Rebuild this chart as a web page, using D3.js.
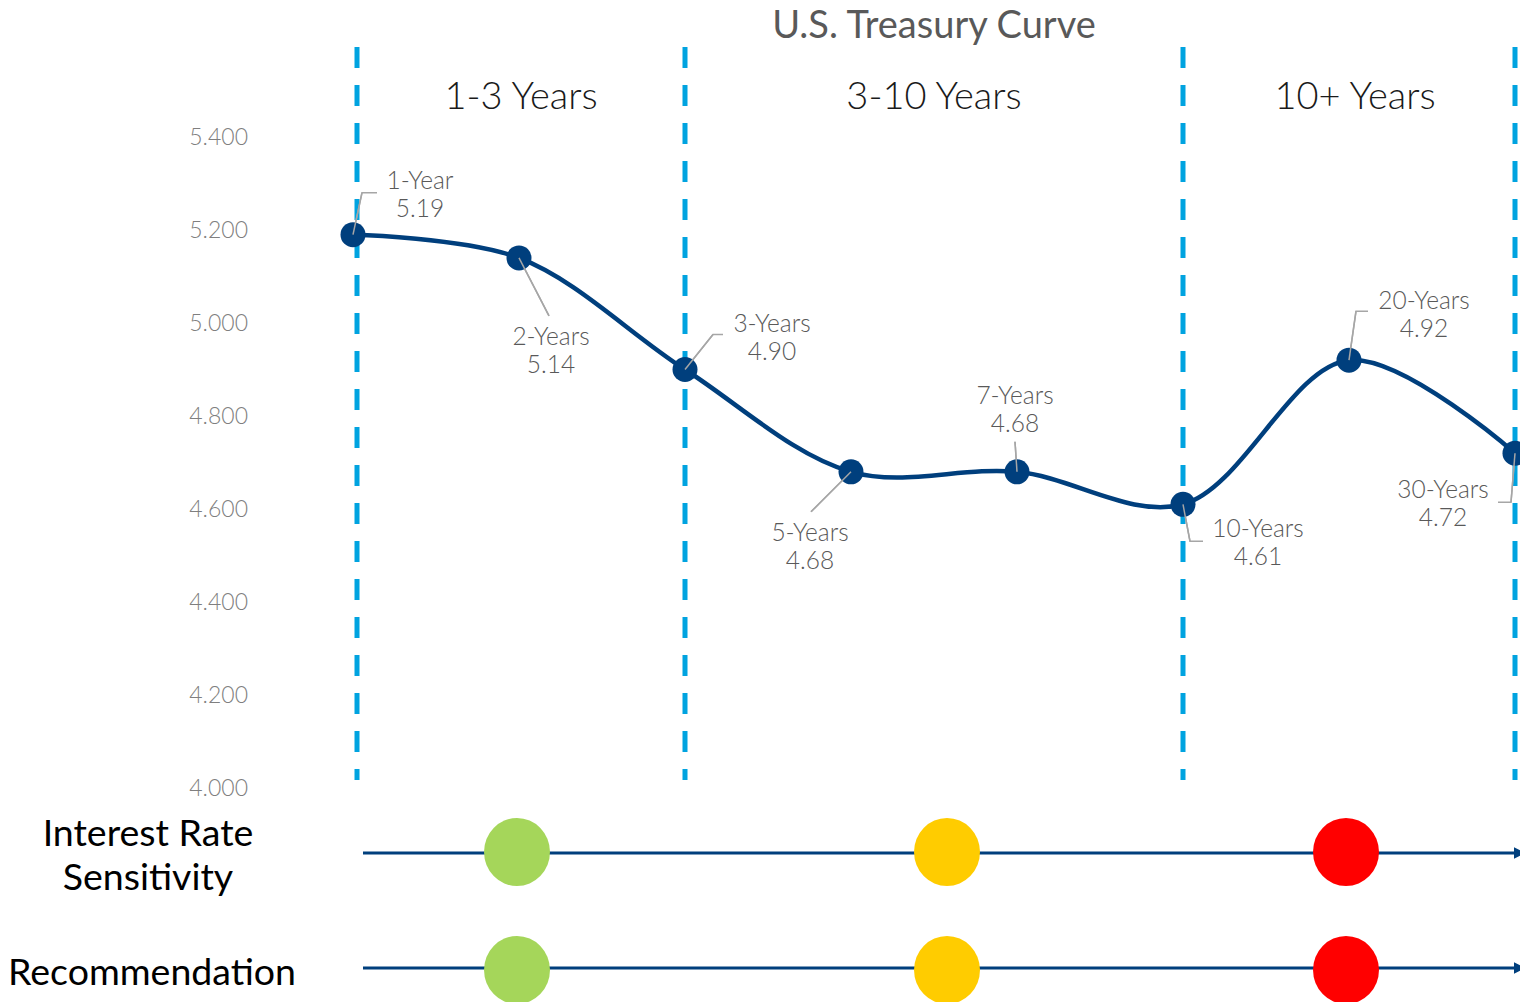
<!DOCTYPE html>
<head>
  <meta charset="utf-8">
  <script src="https://d3js.org/d3.v7.min.js"></script>
  <style>
    body { margin:0; background:#fff; font-family: Lato, "Open Sans", sans-serif; }
  </style>
</head>
<body>
  <script>
    // --- data ---
    var maturities = ["1-Year", "2-Years", "3-Years", "5-Years", "7-Years", "10-Years", "20-Years", "30-Years"];
    var yields = [5.19, 5.14, 4.90, 4.68, 4.68, 4.61, 4.92, 4.72];
    var yTicks = [4.0, 4.2, 4.4, 4.6, 4.8, 5.0, 5.2, 5.4];
    var buckets = ["1-3 Years", "3-10 Years", "10+ Years"];
    var bucketEdges = [["1-Year", "3-Years"], ["3-Years", "10-Years"], ["10-Years", "30-Years"]];
    var dividers = ["1-Year", "3-Years", "10-Years", "30-Years"];
    var rowLabels = [["Interest Rate", "Sensitivity"], ["Recommendation"]];
    var sensitivityColors = ["#a5d65a", "#ffcc00", "#ff0000"];
    var recommendationColors = ["#a5d65a", "#ffcc00", "#ff0000"];

    var W = 1520, H = 1002;
    var svg = d3.select("body").append("svg")
      .attr("width", W)
      .attr("height", H);

    var x = d3.scalePoint().domain(maturities).range([353, 1515]);
    var y = d3.scaleLinear().domain([4.0, 5.4]).range([788, 137]);

    var data = maturities.map(function(m, i) { return { name: m, value: yields[i] }; });

    // title
    svg.append("text")
      .attr("x", 934).attr("y", 38)
      .attr("text-anchor", "middle")
      .style("font-size", "38px")
      .style("fill", "#595959")
      .text("U.S. Treasury Curve");

    // y axis (labels only)
    var yAxis = d3.axisLeft(y).tickValues(yTicks).tickSize(0).tickPadding(0).tickFormat(d3.format(".3f"));
    var ga = svg.append("g").attr("transform", "translate(248,0)").call(yAxis);
    ga.select(".domain").remove();
    ga.selectAll("text")
      .style("font-family", "Lato")
      .style("font-weight", 300)
      .style("font-size", "23px")
      .style("fill", "#7f7f7f");

    // dashed dividers
    svg.selectAll(".divider")
      .data(dividers)
      .enter().append("line")
      .attr("class", "divider")
      .attr("x1", function(d, i) { return x(d) + (i === 0 ? 4 : 0); })
      .attr("x2", function(d, i) { return x(d) + (i === 0 ? 4 : 0); })
      .attr("y1", 47).attr("y2", 780)
      .style("stroke", "#00a3e0")
      .style("stroke-width", 5)
      .style("stroke-dasharray", "21,17");

    // bucket headers
    svg.selectAll(".bucket")
      .data(buckets)
      .enter().append("text")
      .attr("class", "bucket")
      .attr("x", function(d, i) { return (x(bucketEdges[i][0]) + x(bucketEdges[i][1])) / 2 + [2, 0, 6][i]; })
      .attr("y", 109)
      .attr("text-anchor", "middle")
      .style("font-weight", 300)
      .style("font-size", "38px")
      .style("fill", "#1a1a1a")
      .text(function(d) { return d; });

    // curve
    var line = d3.line()
      .x(function(d) { return x(d.name); })
      .y(function(d) { return y(d.value); })
      .curve(d3.curveCatmullRom.alpha(0.5));

    svg.append("path")
      .datum(data)
      .attr("d", line)
      .style("fill", "none")
      .style("stroke", "#003f7d")
      .style("stroke-width", 4.5);

    // leader lines + labels (offsets relative to point)
    var place = {
      "1-Year":   { dx: 67,  dy: -55, lead: [[0, 0], [9, -42], [24, -42]] },
      "2-Years":  { dx: 32,  dy: 78,  lead: [[0, 0], [30, 58]] },
      "3-Years":  { dx: 87,  dy: -47, lead: [[0, 0], [28, -35], [38, -35]] },
      "5-Years":  { dx: -41, dy: 60,  lead: [[0, 0], [-40, 40]] },
      "7-Years":  { dx: -2,  dy: -77, lead: [[0, 0], [-2, -30]] },
      "10-Years": { dx: 75,  dy: 24,  lead: [[0, 0], [7, 37], [20, 37]] },
      "20-Years": { dx: 75,  dy: -60, lead: [[0, 0], [7, -49], [19, -49]] },
      "30-Years": { dx: -72, dy: 36,  lead: [[0, 0], [-4, 49], [-17, 49]] }
    };

    var lab = svg.selectAll(".lab")
      .data(data)
      .enter().append("g")
      .attr("class", "lab")
      .attr("transform", function(d) { return "translate(" + x(d.name) + "," + y(d.value) + ")"; });

    lab.append("path")
      .attr("d", function(d) { return d3.line()(place[d.name].lead); })
      .style("fill", "none")
      .style("stroke", "#a6a6a6")
      .style("stroke-width", 1.5);

    // markers
    lab.append("circle")
      .attr("r", 12.5)
      .style("fill", "#003f7d");

    lab.append("path")
      .attr("d", function(d) { var l = place[d.name].lead; return d3.line()(l.slice(0, 2)); })
      .style("fill", "none")
      .style("stroke", "#a6a6a6")
      .style("stroke-width", 1.5);

    var txt = lab.append("text")
      .attr("text-anchor", "middle")
      .style("font-weight", 300)
      .style("font-size", "24.5px")
      .style("fill", "#595959");
    txt.append("tspan")
      .attr("x", function(d) { return place[d.name].dx; })
      .attr("y", function(d) { return place[d.name].dy + 9; })
      .text(function(d) { return d.name; });
    txt.append("tspan")
      .attr("x", function(d) { return place[d.name].dx; })
      .attr("y", function(d) { return place[d.name].dy + 37; })
      .text(function(d) { return d3.format(".2f")(d.value); });

    // bottom rows
    svg.append("defs").append("marker")
      .attr("id", "arrow")
      .attr("viewBox", "0 0 10 10")
      .attr("refX", 2).attr("refY", 5)
      .attr("markerWidth", 4).attr("markerHeight", 4)
      .attr("orient", "auto")
      .append("path")
      .attr("d", "M0,0L10,5L0,10z")
      .style("fill", "#003f7d");

    var rowY = [853, 968];
    var rowCircleY = [852, 970];
    var rowColors = [sensitivityColors, recommendationColors];

    rowY.forEach(function(ry, r) {
      svg.append("line")
        .attr("x1", 363).attr("x2", 1516)
        .attr("y1", ry).attr("y2", ry)
        .style("stroke", "#003f7d")
        .style("stroke-width", 3)
        .attr("marker-end", "url(#arrow)");

      svg.selectAll(".dot" + r)
        .data(buckets)
        .enter().append("ellipse")
        .attr("cx", function(d, i) { return (x(bucketEdges[i][0]) + x(bucketEdges[i][1])) / 2 + [-2, 13, -3][i]; })
        .attr("cy", rowCircleY[r])
        .attr("rx", 33).attr("ry", 34)
        .style("fill", function(d, i) { return rowColors[r][i]; });

      var t = svg.append("text")
        .attr("text-anchor", "middle")
        .style("font-size", "37.5px")
        .style("fill", "#000");
      var lines = rowLabels[r];
      lines.forEach(function(s, k) {
        t.append("tspan")
          .attr("x", r === 0 ? 148 : 152)
          .attr("y", (r === 0 ? 846 : 985) + k * 44)
          .text(s);
      });
    });
  </script>
</body>
